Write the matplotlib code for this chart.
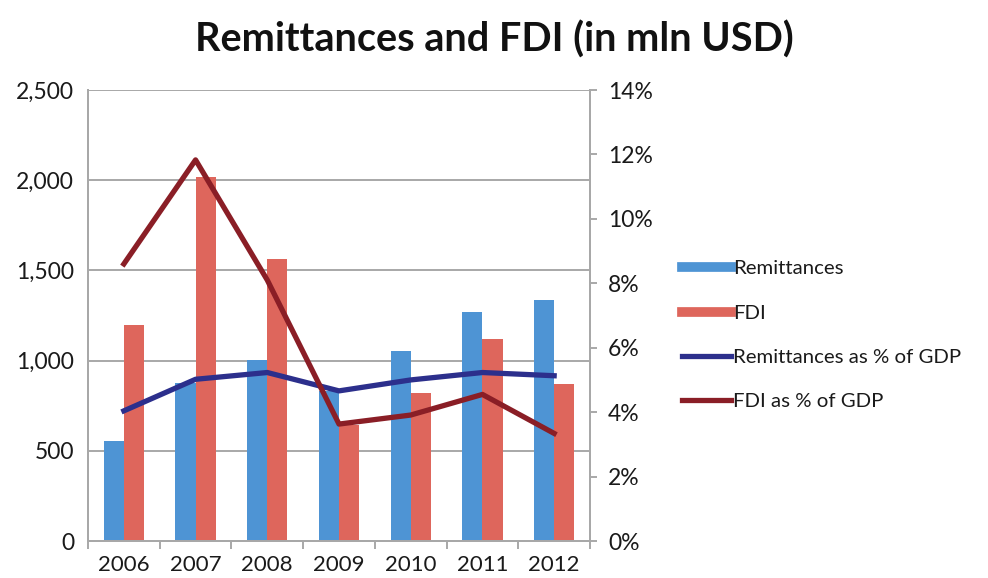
import numpy as np
import matplotlib
matplotlib.use("Agg")
import matplotlib.pyplot as plt
from matplotlib.lines import Line2D
from matplotlib.ticker import FuncFormatter, FixedLocator

plt.rcParams['font.family'] = ['Lato', 'DejaVu Sans']

# Data
years = ['2006', '2007', '2008', '2009', '2010', '2011', '2012']
remittances = [555, 875, 1005, 830, 1055, 1270, 1335]
fdi = [1195, 2020, 1565, 645, 820, 1120, 870]
remit_pct_gdp = [4.04, 5.02, 5.23, 4.66, 5.0, 5.23, 5.13]
fdi_pct_gdp = [8.6, 11.83, 8.1, 3.63, 3.91, 4.55, 3.34]

blue_bar = '#4E94D4'
red_bar = '#DE665C'
blue_line = '#2C2F8C'
red_line = '#8A1E26'
grid_col = '#A8A8A8'
text_col = '#1A1A1A'

fig = plt.figure(figsize=(9.88, 5.78), dpi=100)
ax = fig.add_axes([88 / 988, 1 - 541 / 578, (590 - 88) / 988, (541 - 90) / 578])
ax2 = ax.twinx()

x = np.arange(len(years))
w = 0.28
ax.bar(x - w / 2, remittances, w, color=blue_bar, zorder=2)
ax.bar(x + w / 2, fdi, w, color=red_bar, zorder=2)

ax.set_ylim(0, 2500)
ax.set_xlim(-0.5, len(years) - 0.5)
ax.set_yticks(np.arange(0, 2501, 500))
ax.yaxis.set_major_formatter(FuncFormatter(lambda v, p: f'{int(v):,}'))
ax.grid(axis='y', color=grid_col, linewidth=1.4, zorder=0)
ax.set_axisbelow(True)

ax.set_xticks(x)
ax.set_xticklabels(years)
ax.xaxis.set_minor_locator(FixedLocator(np.arange(-0.5, len(years), 1)))
ax.tick_params(axis='x', which='major', length=0, pad=10, labelsize=16, labelcolor=text_col)
ax.tick_params(axis='x', which='minor', length=6, direction='out', color=grid_col, width=1.4)
ax.tick_params(axis='y', length=0, pad=10, labelsize=16.5, labelcolor=text_col)

ax2.plot(x, remit_pct_gdp, color=blue_line, linewidth=3.8, zorder=3)
ax2.plot(x, fdi_pct_gdp, color=red_line, linewidth=3.8, zorder=3)
ax2.set_ylim(0, 14)
ax2.set_yticks(np.arange(0, 15, 2))
ax2.yaxis.set_major_formatter(FuncFormatter(lambda v, p: f'{int(v)}%'))
ax2.tick_params(axis='y', length=5, direction='out', color=grid_col, width=1.4,
                pad=8, labelsize=16.5, labelcolor=text_col)

for a in (ax, ax2):
    a.spines['top'].set_visible(False)
    for s in ['left', 'right', 'bottom']:
        a.spines[s].set_color(grid_col)
        a.spines[s].set_linewidth(1.4)

fig.text(494 / 988, 1 - 40 / 578, 'Remittances and FDI (in mln USD)', ha='center', va='center',
         fontsize=28.5, fontweight='bold', color='#111111')

handles = [
    Line2D([0], [0], color=blue_bar, linewidth=7),
    Line2D([0], [0], color=red_bar, linewidth=7),
    Line2D([0], [0], color=blue_line, linewidth=3.8),
    Line2D([0], [0], color=red_line, linewidth=3.8),
]
labels = ['Remittances', 'FDI', 'Remittances as % of GDP', 'FDI as % of GDP']
fig.legend(handles, labels, loc='upper left', bbox_to_anchor=(674 / 988, 1 - 252 / 578),
           frameon=False, fontsize=14.7, handlelength=2.4, handletextpad=0.1,
           labelspacing=1.32, labelcolor=text_col, borderaxespad=0)

fig.savefig('out.png', dpi=100, facecolor='white')
